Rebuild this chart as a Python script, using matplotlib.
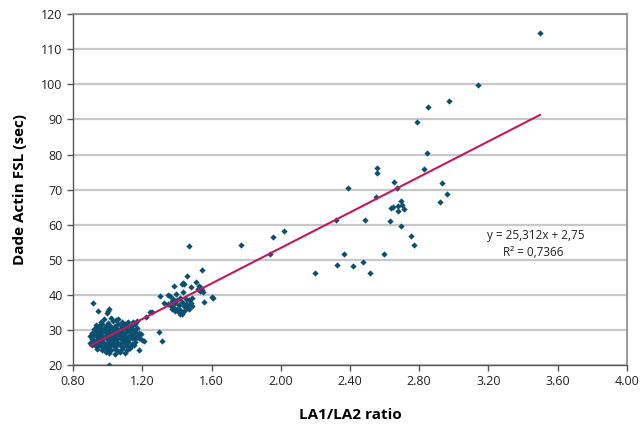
import matplotlib
matplotlib.use("Agg")
import matplotlib.pyplot as plt
import numpy as np

plt.rcParams['font.family'] = ['Open Sans', 'DejaVu Sans']

# Dense cluster (LA1/LA2 ratio ~0.9-1.2)
cluster_x = [0.96,0.98,1.03,1.00,1.05,1.08,1.12,1.147,1.17,1.06,1.02,1.10,
             0.93,0.95,0.97,0.99,1.01,1.04,1.06,1.08,1.10,1.12,1.14,1.16,1.02,0.96,
             0.92,0.94,0.96,0.98,1.00,1.02,1.04,1.05,1.07,1.09,1.11,1.13,1.15,1.17,0.99,1.03,
             0.91,0.93,0.95,0.97,0.99,1.01,1.03,1.05,1.06,1.08,1.10,1.12,1.14,1.16,1.18,0.94,1.00,1.07,
             0.90,0.92,0.94,0.96,0.98,1.00,1.02,1.04,1.06,1.08,1.09,1.11,1.13,1.15,1.17,1.19,0.97,1.05,
             0.91,0.93,0.95,0.97,0.99,1.01,1.03,1.05,1.07,1.09,1.10,1.12,1.14,1.16,1.18,1.20,0.96,1.04,
             0.90,0.92,0.94,0.96,0.98,1.00,1.02,1.04,1.06,1.08,1.10,1.12,1.14,1.16,1.21,0.93,1.01,
             0.91,0.93,0.95,0.97,0.99,1.01,1.03,1.05,1.07,1.09,1.11,1.13,1.15,0.98,
             0.94,0.97,1.00,1.02,1.04,1.06,1.08,1.11,1.18,1.13,
             1.01,1.04,1.07,0.99,1.10]
cluster_y = [32.3,33.0,32.5,32.0,32.8,32.2,32.3,32.3,32.5,33.2,33.5,31.8,
             31.5,31.0,31.6,31.2,31.5,31.0,31.6,31.2,30.9,31.4,31.0,31.6,30.8,30.6,
             30.2,30.5,30.0,30.4,30.1,30.5,30.2,30.7,30.3,30.6,30.1,30.4,30.0,30.5,29.8,29.9,
             29.2,29.6,29.1,29.5,29.0,29.4,29.2,29.6,29.0,29.5,29.2,29.7,29.1,29.4,29.0,28.9,28.8,28.7,
             28.3,28.7,28.2,28.6,28.1,28.5,28.0,28.4,28.8,28.2,28.6,28.1,28.5,28.0,28.4,28.8,27.9,27.8,
             27.5,27.2,27.7,27.3,27.6,27.1,27.5,27.2,27.6,27.1,27.5,27.2,27.7,27.3,27.6,27.2,26.9,26.8,
             26.4,26.8,26.3,26.6,26.2,26.7,26.3,26.6,26.2,26.7,26.3,26.6,26.1,26.5,26.8,25.9,25.8,
             25.6,25.3,25.7,25.2,25.5,25.1,25.6,25.3,25.7,25.2,25.5,25.1,25.6,24.8,
             24.6,24.3,24.7,24.2,24.6,24.1,24.5,24.3,24.3,24.8,
             23.5,23.2,23.7,23.8,23.4]

# Second cluster (ratio ~1.2-1.6)
mid_x = [1.008,0.916,0.945,1.01,1.00,0.995,1.297,1.314,1.22,1.245,
         1.30,1.35,1.36,1.395,1.435,1.383,1.435,1.44,1.43,1.46,1.545,1.48,1.51,1.53,1.54,
         1.545,1.535,1.55,1.52,1.49,1.557,1.603,1.61,1.326,1.43,1.47,1.257,1.42,1.47,
         1.36,1.37,1.38,1.39,1.40,1.40,1.41,1.42,1.43,1.44,1.45,1.46,1.45,1.38,1.41,
         1.37,1.39,1.44,1.46,1.42,1.35,1.48,1.47,1.49]
mid_y = [20.0,37.7,35.4,36.0,35.3,34.8,29.4,26.8,33.7,35.0,
         39.7,40.0,39.8,40.2,40.8,42.5,43.5,43.2,43.0,45.4,47.1,42.2,43.6,42.5,42.0,
         41.4,41.0,40.8,41.6,39.0,38.0,39.4,39.1,37.7,34.5,36.0,35.1,34.5,54.0,
         37.0,38.2,36.5,37.6,36.0,38.5,37.2,35.8,38.0,36.7,37.5,36.2,38.8,38.8,35.2,
         36.0,35.5,35.4,37.0,39.0,37.3,37.8,38.5,36.8]

# Sparse points (ratio > 1.7)
high_x = [3.498,3.14,2.97,2.85,2.79,2.845,2.83,2.556,2.556,2.655,2.67,2.93,2.96,2.92,
          2.55,2.695,2.637,2.649,2.678,2.70,2.678,2.712,2.63,2.695,2.75,2.77,2.597,2.516,
          2.39,2.32,2.487,2.02,1.955,1.77,1.938,2.365,2.325,2.418,2.475,2.20]
high_y = [114.7,99.7,95.3,93.5,89.3,80.5,75.8,76.3,74.7,72.1,70.4,72.0,68.7,66.4,
          67.9,66.7,64.7,65.0,65.3,65.6,63.9,64.4,61.0,59.6,56.8,54.2,51.7,46.2,
          70.4,61.3,61.3,58.1,56.4,54.1,51.7,51.7,48.6,48.2,49.3,46.2]

slope = 25.312
intercept = 2.75
r2 = 0.7366
line_x = [0.9, 3.498]

x_ticks = [0.80, 1.20, 1.60, 2.00, 2.40, 2.80, 3.20, 3.60, 4.00]
y_ticks = [20, 30, 40, 50, 60, 70, 80, 90, 100, 110, 120]

fig = plt.figure(figsize=(6.41, 4.29), dpi=100)
ax = fig.add_axes([0.114, 0.149, 0.864, 0.818])

ax.set_xlim(0.8, 4.0)
ax.set_ylim(20, 120)
ax.set_xticks(x_ticks)
ax.set_xticklabels([f"{t:.2f}" for t in x_ticks])
ax.set_yticks(y_ticks)

ax.yaxis.grid(True, color='#c8c8c8', linewidth=1.6)
ax.set_axisbelow(True)

pt_color = '#0b4f72'
all_x = cluster_x + mid_x + high_x
all_y = cluster_y + mid_y + high_y
ax.plot(all_x, all_y, linestyle='none', marker='D', markersize=3.2,
        color=pt_color, markeredgewidth=0, zorder=3)

ly = [slope * v + intercept for v in line_x]
ax.plot(line_x, ly, color='#c41860', linewidth=1.5, zorder=4)

ax.text(3.475, 57.0, "y = 25,312x + 2,75", ha='center', va='center', fontsize=8.5, color='#222222')
ax.text(3.46, 52.2, "R\u00b2 = 0,7366", ha='center', va='center', fontsize=8.5, color='#222222')

for s in ['left', 'bottom']:
    ax.spines[s].set_color('#555555')
    ax.spines[s].set_linewidth(1.0)
for s in ['top', 'right']:
    ax.spines[s].set_color('#888888')
    ax.spines[s].set_linewidth(1.2)

ax.tick_params(axis='both', direction='out', length=4, width=1, color='#555555',
               labelsize=9, labelcolor='#222222')

ax.set_xlabel("LA1/LA2 ratio", fontsize=11, fontweight='bold', labelpad=14)
ax.set_ylabel("Dade Actin FSL (sec)", fontsize=11, fontweight='bold', labelpad=10)

fig.savefig("out.png", dpi=100)
